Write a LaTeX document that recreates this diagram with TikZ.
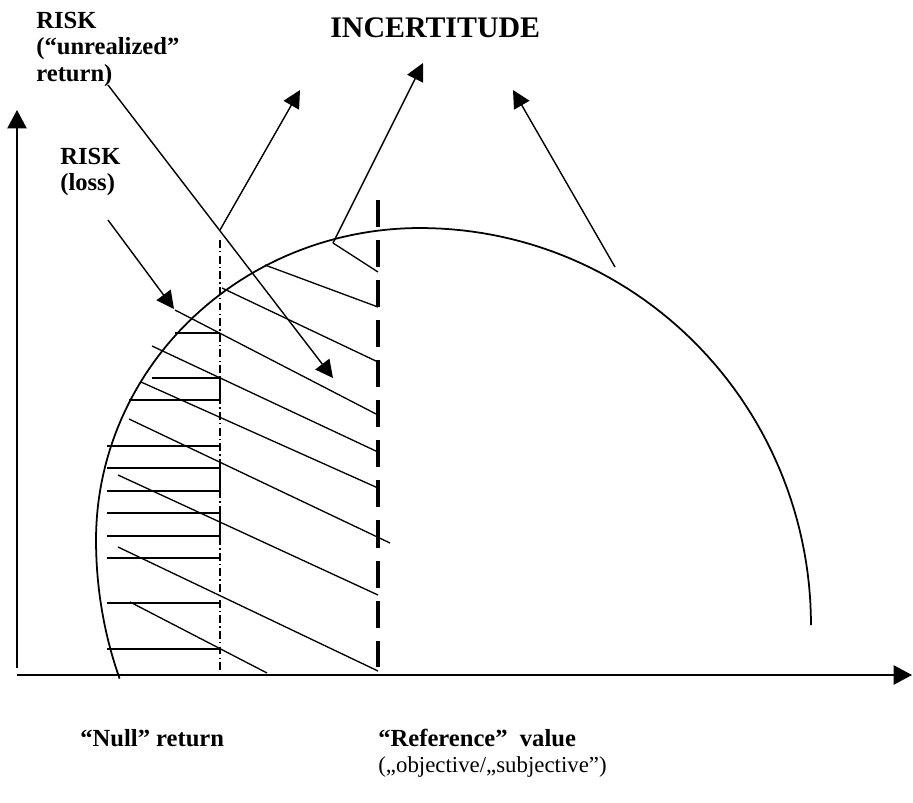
\documentclass[tikz,border=0pt]{standalone}
\usepackage{fontspec}
\setmainfont{Liberation Serif}
\usetikzlibrary{arrows.meta,positioning}

\tikzset{
  axisline/.style={line width=0.9pt, -{Triangle[length=10.5pt,width=11pt]}},
  pointer/.style={line width=0.8pt, -{Triangle[length=10pt,width=10pt]}},
  hatchline/.style={line width=0.75pt},
  boldlbl/.style={font=\fontsize{14}{15}\selectfont\bfseries, align=left, inner sep=0pt},
}

\begin{document}
\begin{tikzpicture}[x=0.02cm, y=-0.02cm]
\useasboundingbox (0,0) rectangle (913,802);

% --- Axes ---
\coordinate (yfoot) at (17,668);
\coordinate (ytop) at (17,110);
\coordinate (origin) at (17,675);
\coordinate (xend) at (912,675);
\draw[axisline] (yfoot) -- (ytop);
\draw[axisline] (origin) -- (xend);

% --- Outcome curve (three elliptic pieces) ---
\draw[line width=1pt]
    plot[domain=158:180, samples=20] ({420+324*cos(\x)}, {540+370*sin(\x)})
 -- plot[domain=180:270, samples=60] ({420+324*cos(\x)}, {540+312*sin(\x)})
 -- plot[domain=270:360, samples=60] ({420+391*cos(\x)}, {625+397*sin(\x)});

% --- Null return and reference value ---
\draw[line width=0.7pt, dash pattern=on 4.5pt off 1.8pt on 0.8pt off 1.8pt]
    (220,240) -- (220,673);
\draw[line width=2.2pt, dash pattern=on 15.4pt off 7.4pt] (378,200) -- (378,667);

% --- Hatching: loss ---
\foreach \xa/\y in {175/333, 107/446, 107/558, 107/603, 107/649}
    \draw[hatchline] (\xa,\y) -- (220,\y);
\foreach \xa/\ya/\xb/\yb in {152/378/129/400, 107/468/107/491, 107/513/107/536}
    \draw[hatchline] (\xa,\ya) -- (220,\ya) -- (220,\yb) -- (\xb,\yb);

% --- Hatching: unrealized return ---
\foreach \xa/\ya/\xb/\yb in {
    333/243/378/272, 265/265/378/307, 222/288/378/362, 175/310/378/415,
    152/346/378/452, 141/382/378/488, 129/419/390/543, 118/475/378/595,
    118/547/378/671, 130/602/267/673}
    \draw[hatchline] (\xa,\ya) -- (\xb,\yb);

% --- Labels ---
\node[boldlbl, anchor=north west] (riskunreal) at (36,12)
    {RISK\\(“unrealized”\\return)};
\node[boldlbl, anchor=north west] (riskloss) at (60,148) {RISK\\(loss)};
\node[font=\fontsize{17}{18}\selectfont\bfseries, anchor=north west, inner sep=0pt]
    (incert) at (330,17) {INCERTITUDE};
\node[boldlbl, anchor=base west] (nullret) at (80,746) {“Null” return};
\node[boldlbl, anchor=base west] (refval) at (378,746) {“Reference”\ \ value};
\node[font=\fontsize{13}{14}\selectfont, anchor=base west, inner sep=0pt]
    (refkind) at (378,772) {(„objective/„subjective”)};

% --- Pointers ---
\coordinate (unrealfrom) at (108,85);
\coordinate (unrealto) at (333,378);
\coordinate (lossfrom) at (108,220);
\coordinate (lossto) at (174,309);
\draw[pointer] (unrealfrom) -- (unrealto);
\draw[pointer] (lossfrom) -- (lossto);

\coordinate (nullfrom) at (220,230);
\coordinate (nullto) at (300,90);
\coordinate (reffrom) at (333,243);
\coordinate (refto) at (423,63);
\coordinate (gainfrom) at (615,267);
\coordinate (gainto) at (513,90);
\draw[pointer] (nullfrom) -- (nullto);
\draw[pointer] (reffrom) -- (refto);
\draw[pointer] (gainfrom) -- (gainto);

\end{tikzpicture}
\end{document}
